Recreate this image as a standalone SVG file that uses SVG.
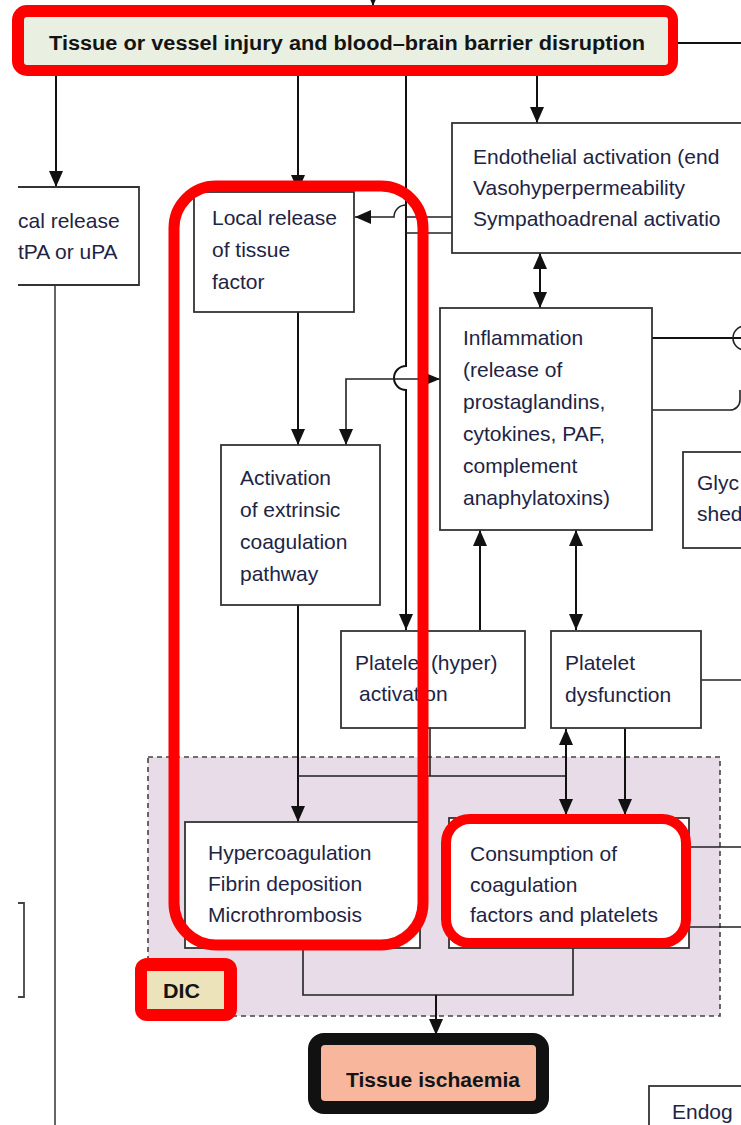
<svg xmlns="http://www.w3.org/2000/svg" width="741" height="1125" viewBox="0 0 741 1125">
<style>
.box{fill:#fff;stroke:#333;stroke-width:1.8}
.t{font-family:"Liberation Sans",Arial,sans-serif;font-size:21px;fill:#1e2444}
.b{font-family:"Liberation Sans",Arial,sans-serif;font-weight:bold;font-size:20px;fill:#141414}
.c{fill:none;stroke:#111;stroke-width:2}
.thin{fill:none;stroke:#222;stroke-width:1.6}
.hl{fill:none;stroke:#ff0000;stroke-width:11}
</style>
<defs>
<marker id="ah" markerUnits="userSpaceOnUse" markerWidth="16" markerHeight="14" viewBox="0 0 16 14" refX="16" refY="7" orient="auto-start-reverse">
<path d="M0 0 L16 7 L0 14 Z" fill="#111"/>
</marker>
<marker id="as" markerUnits="userSpaceOnUse" markerWidth="12" markerHeight="10" viewBox="0 0 12 10" refX="12" refY="5" orient="auto-start-reverse">
<path d="M0 0 L12 5 L0 10 Z" fill="#111"/>
</marker>
</defs>
<rect width="741" height="1125" fill="#fff"/>

<g id="dic-region">
<rect x="148" y="757" width="572" height="259" fill="#e8dce8" stroke="#444" stroke-width="1.6" stroke-dasharray="5 4"/>
</g>

<g id="connectors">
<path class="c" d="M373 -20 V6" marker-end="url(#ah)"/>
<path class="c" d="M678 43 H741"/>
<path class="c" d="M56 76 V187" marker-end="url(#ah)"/>
<path class="c" d="M298 76 V191" marker-end="url(#ah)"/>
<path class="c" d="M406 76 V366 A12 12 0 0 0 406 390 V630" marker-end="url(#ah)"/>
<path class="c" d="M537 76 V123" marker-end="url(#ah)"/>
<path class="thin" d="M452 233 H406"/>
<path class="thin" d="M452 217 H406 M406 205 A12 12 0 0 0 394 217 H355" marker-end="url(#ah)"/>
<path class="c" d="M540 253 V308" marker-start="url(#ah)" marker-end="url(#ah)"/>
<path class="c" d="M298 312 V445" marker-end="url(#ah)"/>
<path class="thin" d="M346 445 V379 H440" marker-start="url(#ah)" marker-end="url(#as)"/>
<path class="c" d="M652 338 H741"/>
<path class="thin" d="M745 326 A12 12 0 0 0 745 350"/>
<path class="thin" d="M652 410 H730 A10 10 0 0 0 740 400 V390"/>
<path class="thin" d="M746 420 V452" marker-end="url(#as)"/>
<path class="c" d="M480 630 V530" marker-end="url(#ah)"/>
<path class="c" d="M576 530 V630" marker-start="url(#ah)" marker-end="url(#ah)"/>
<path class="thin" d="M701 680 H741"/>
<path class="c" d="M298 605 V822" marker-end="url(#ah)"/>
<path class="thin" d="M430 728 V776 M298 776 H566"/>
<path class="c" d="M566 729 V815" marker-start="url(#ah)" marker-end="url(#ah)"/>
<path class="c" d="M625 728 V815" marker-end="url(#ah)"/>
<path class="thin" d="M690 847 H741 M690 927 H741"/>
<path class="thin" d="M303 948 V995 H573 V946"/>
<path class="c" d="M436 995 V1035" marker-end="url(#ah)"/>
<path fill="none" stroke="#555" stroke-width="1.8" d="M55 285 V1125"/>
<path fill="none" stroke="#444" stroke-width="1.8" d="M18 903 H24 V997 H18"/>
</g>

<g id="top-node">
<rect x="12" y="5" width="666" height="71" rx="15" fill="#ff0000"/>
<rect x="24" y="17" width="644" height="48" rx="3" fill="#e9f0e1"/>
<text class="b" x="347" y="50" text-anchor="middle" textLength="596" lengthAdjust="spacingAndGlyphs">Tissue or vessel injury and blood–brain barrier disruption</text>
</g>

<g id="tpa-node">
<path class="box" d="M18 187 H139 V285 H18"/>
<text class="t" x="18" y="228">cal release</text>
<text class="t" x="18" y="259">tPA or uPA</text>
</g>

<g id="tissue-factor-node">
<rect class="box" x="194" y="192" width="160" height="120"/>
<text class="t" x="212" y="225">Local release</text>
<text class="t" x="212" y="257">of tissue</text>
<text class="t" x="212" y="289">factor</text>
</g>

<g id="endothelial-node">
<rect class="box" x="452" y="123" width="300" height="130"/>
<text class="t" x="473" y="164">Endothelial activation (end</text>
<text class="t" x="473" y="195">Vasohyperpermeability</text>
<text class="t" x="473" y="226">Sympathoadrenal activatio</text>
</g>

<g id="inflammation-node">
<rect class="box" x="440" y="308" width="212" height="222"/>
<text class="t" x="463" y="345">Inflammation</text>
<text class="t" x="463" y="377">(release of</text>
<text class="t" x="463" y="409">prostaglandins,</text>
<text class="t" x="463" y="441">cytokines, PAF,</text>
<text class="t" x="463" y="473">complement</text>
<text class="t" x="463" y="505">anaphylatoxins)</text>
</g>

<g id="glycocalyx-node">
<rect class="box" x="683" y="452" width="80" height="96"/>
<text class="t" x="697" y="490">Glyc</text>
<text class="t" x="697" y="521">shed</text>
</g>

<g id="extrinsic-node">
<rect class="box" x="221" y="445" width="159" height="160"/>
<text class="t" x="240" y="485">Activation</text>
<text class="t" x="240" y="517">of extrinsic</text>
<text class="t" x="240" y="549">coagulation</text>
<text class="t" x="240" y="581">pathway</text>
</g>

<g id="platelet-activation-node">
<rect class="box" x="341" y="631" width="184" height="97"/>
<text class="t" x="355" y="670">Platelet (hyper)</text>
<text class="t" x="359" y="701">activation</text>
</g>

<g id="platelet-dysfunction-node">
<rect class="box" x="551" y="631" width="150" height="97"/>
<text class="t" x="565" y="670">Platelet</text>
<text class="t" x="565" y="702">dysfunction</text>
</g>

<g id="hypercoagulation-node">
<rect class="box" x="185" y="822" width="235" height="126"/>
<text class="t" x="208" y="860">Hypercoagulation</text>
<text class="t" x="208" y="891">Fibrin deposition</text>
<text class="t" x="208" y="922">Microthrombosis</text>
</g>

<g id="consumption-node">
<rect class="box" x="449" y="818" width="240" height="130"/>
<rect x="446" y="819" width="240" height="124" rx="24" fill="#fff" stroke="#ff0000" stroke-width="10"/>
<text class="t" x="470" y="861">Consumption of</text>
<text class="t" x="470" y="892">coagulation</text>
<text class="t" x="470" y="922">factors and platelets</text>
</g>

<g id="dic-label">
<rect x="135" y="958" width="102" height="63" rx="12" fill="#ff0000"/>
<rect x="147" y="971" width="77" height="38" fill="#ede3bb"/>
<text class="b" x="163" y="998" fill="#33300f" textLength="37" lengthAdjust="spacingAndGlyphs">DIC</text>
</g>

<g id="ischaemia-node">
<rect x="308" y="1033" width="241" height="81" rx="16" fill="#111"/>
<rect x="321" y="1045" width="215" height="56" rx="4" fill="#f8b69c"/>
<text class="b" x="433" y="1087" text-anchor="middle" textLength="174" lengthAdjust="spacingAndGlyphs">Tissue ischaemia</text>
</g>

<g id="endogenous-node">
<rect class="box" x="649" y="1086" width="110" height="60"/>
<text class="t" x="672" y="1119">Endog</text>
</g>

<g id="highlight">
<rect class="hl" x="174" y="186" width="249" height="759" rx="42"/>
</g>
</svg>
